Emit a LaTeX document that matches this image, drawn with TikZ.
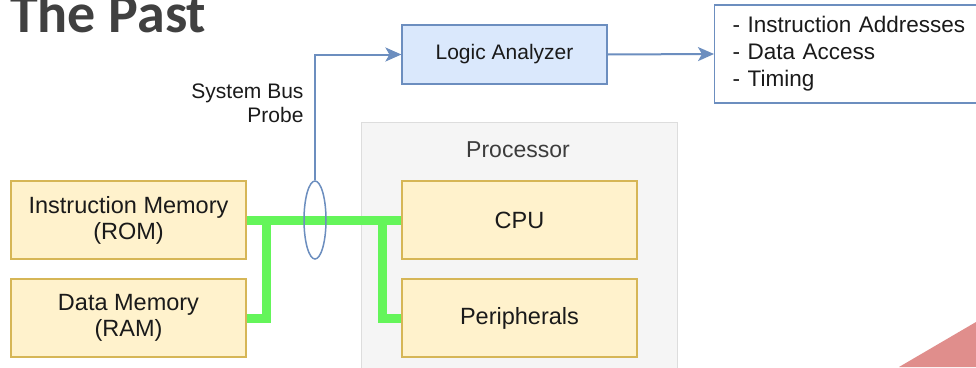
\documentclass[tikz,border=0pt]{standalone}
\usepackage{fontspec}
\setmainfont{Liberation Sans}
\newfontfamily\titlefont{Carlito}
\usetikzlibrary{arrows.meta,shapes.geometric}
\definecolor{bluefill}{HTML}{DAE8FC}
\definecolor{blueline}{HTML}{6C8EBF}
\definecolor{yelfill}{HTML}{FFF2CC}
\definecolor{yelline}{HTML}{D6B656}
\definecolor{grayfill}{HTML}{F5F5F5}
\definecolor{grayline}{HTML}{DDDDDD}
\definecolor{busgreen}{RGB}{100,245,90}
\definecolor{txt}{HTML}{1A1A1A}
\definecolor{titlegray}{HTML}{404040}
\definecolor{redtri}{HTML}{E08E8C}
\tikzset{
  fbox/.style={rectangle, draw=yelline, fill=yelfill, line width=1.2pt, minimum width=235pt, minimum height=78pt, align=center, text=txt, font=\fontsize{23.5}{26}\selectfont},
  bbox/.style={rectangle, draw=blueline, fill=bluefill, line width=1.2pt, minimum width=205pt, minimum height=59pt, text=txt, font=\fontsize{21}{25}\selectfont},
  conn/.style={draw=blueline, line width=2pt, -{Stealth[length=16pt,width=14pt,inset=4pt]}},
  bus/.style={draw=busgreen, line width=9pt},
}
\begin{document}
\begin{tikzpicture}[x=1pt,y=-1pt]
\clip (0,0) rectangle (976,367);
\fill[white] (0,0) rectangle (976,367);
% title
\node[anchor=base west, inner sep=0pt, text=titlegray, font=\titlefont\bfseries\fontsize{56}{60}\selectfont] (title) at (10,32) {The Past};
% processor container
\node[rectangle, draw=grayline, fill=grayfill, line width=1.2pt, minimum width=316pt, minimum height=260pt, anchor=north west] (proc) at (361,122) {};
\node[text=txt!85, font=\fontsize{23}{26}\selectfont] (proclbl) at (518,150) {Processor};
% boxes
\node[fbox] (cpu) at (519.5,220) {CPU};
\node[fbox] (per) at (519.5,318) {Peripherals};
\node[fbox] (im) at (128.5,220) {Instruction Memory\\(ROM)};
\node[fbox] (dm) at (128.5,318) {Data Memory\\(RAM)};
\node[bbox] (la) at (504.5,54.5) {Logic Analyzer};
\node[rectangle, anchor=west, draw=blueline, fill=white, line width=1.2pt, minimum height=98pt, text width=262pt, inner xsep=18pt, align=left, text=txt, font=\fontsize{22.5}{27}\selectfont] (out) at (714,54) {- Instruction Addresses\\- Data Access\\- Timing};
% bus
\coordinate (j1) at (266,220);
\coordinate (j2) at (382,220);
\draw[bus] (im.east) -- (cpu.west);
\draw[bus] (j1) |- (dm.east);
\draw[bus] (j2) |- (per.west);
% probe
\node[ellipse, draw=blueline, line width=1.5pt, minimum width=22pt, minimum height=78pt, inner sep=0pt] (probe) at (315,220) {};
\draw[conn] (probe.north) |- (la.west);
\draw[conn] (la.east) -- (out.west);
\node[anchor=east, align=right, text=txt, font=\fontsize{21}{24}\selectfont] (plbl) at (307,103) {System Bus\\Probe};
% red triangle
\fill[redtri] (899,367) -- (976,322) -- (976,367) -- cycle;
\end{tikzpicture}
\end{document}
